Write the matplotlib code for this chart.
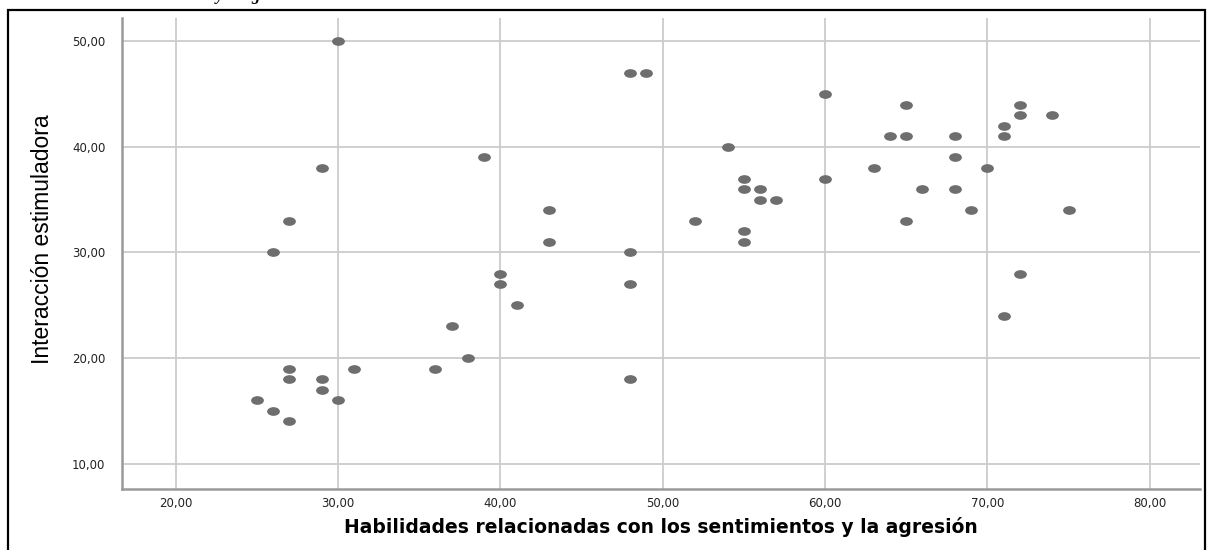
import numpy as np
import matplotlib
matplotlib.use("Agg")
import matplotlib.pyplot as plt
from matplotlib.path import Path
from matplotlib.transforms import Affine2D
from matplotlib.patches import Rectangle

matplotlib.rcParams['font.family'] = ['DejaVu Sans']

# data
habilidades = [30, 48, 49, 60, 65, 72, 72, 74, 71, 64, 65, 68, 71, 54,
               39, 68, 29, 63, 70, 55, 60, 55, 56, 66, 68, 56, 57,
               43, 69, 75, 27, 52, 65, 55, 43, 55, 26, 48, 40, 72,
               40, 48, 41, 71, 37, 38, 27, 31, 36, 27, 29, 48, 29,
               25, 30, 26, 27]
interaccion = [50, 47, 47, 45, 44, 44, 43, 43, 42, 41, 41, 41, 41, 40,
               39, 39, 38, 38, 38, 37, 37, 36, 36, 36, 36, 35, 35,
               34, 34, 34, 33, 33, 33, 32, 31, 31, 30, 30, 28, 28,
               27, 27, 25, 24, 23, 20, 19, 19, 19, 18, 18, 18, 17,
               16, 16, 15, 14]

x_ticks = [20, 30, 40, 50, 60, 70, 80]
y_ticks = [10, 20, 30, 40, 50]

x_title = "Habilidades relacionadas con los sentimientos y la agresión"
y_title = "Interacción estimuladora"

fig = plt.figure(figsize=(12.23, 5.5), dpi=100)
ax = fig.add_axes([0.0998, 0.111, 0.8815, 0.856])

# flattened dot like the spss output
ellipse = Path.unit_circle().transformed(Affine2D().scale(1.0, 0.68))
ax.scatter(habilidades, interaccion, marker=ellipse, s=85, color="#6e6e6e",
           linewidths=0, zorder=3)

ax.set_xlim(16.7, 83.1)
ax.set_ylim(7.6, 52.2)
ax.set_xticks(x_ticks)
ax.set_yticks(y_ticks)
ax.set_xticklabels([f"{v},00" for v in x_ticks])
ax.set_yticklabels([f"{v},00" for v in y_ticks])
ax.tick_params(length=0, labelsize=8.5, colors="#222222")
ax.tick_params(axis='y', pad=12)
ax.tick_params(axis='x', pad=6)

ax.grid(True, color="#cccccc", linewidth=1.3)
ax.set_axisbelow(True)
for side in ["top", "right"]:
    ax.spines[side].set_visible(False)
for side in ["left", "bottom"]:
    ax.spines[side].set_color("#9a9a9a")
    ax.spines[side].set_linewidth(1.8)

ax.set_xlabel(x_title, fontsize=13.5, fontweight="bold", labelpad=5)
ax.set_ylabel(y_title, fontsize=16.5, family="Liberation Sans")
ax.yaxis.set_label_coords(-0.063, 0.53)

# black frame round the figure
fig.patches.append(Rectangle((8 / 1223, -0.05), 1197 / 1223, 1.05 - 10 / 550,
                             transform=fig.transFigure, fill=False,
                             edgecolor="black", linewidth=1.6))
fig.text(216 / 1223, 1.0, "y la agresión", fontsize=12, fontweight="bold",
         style="italic", family="Liberation Serif", va="baseline")

fig.savefig("out.png", dpi=100)
